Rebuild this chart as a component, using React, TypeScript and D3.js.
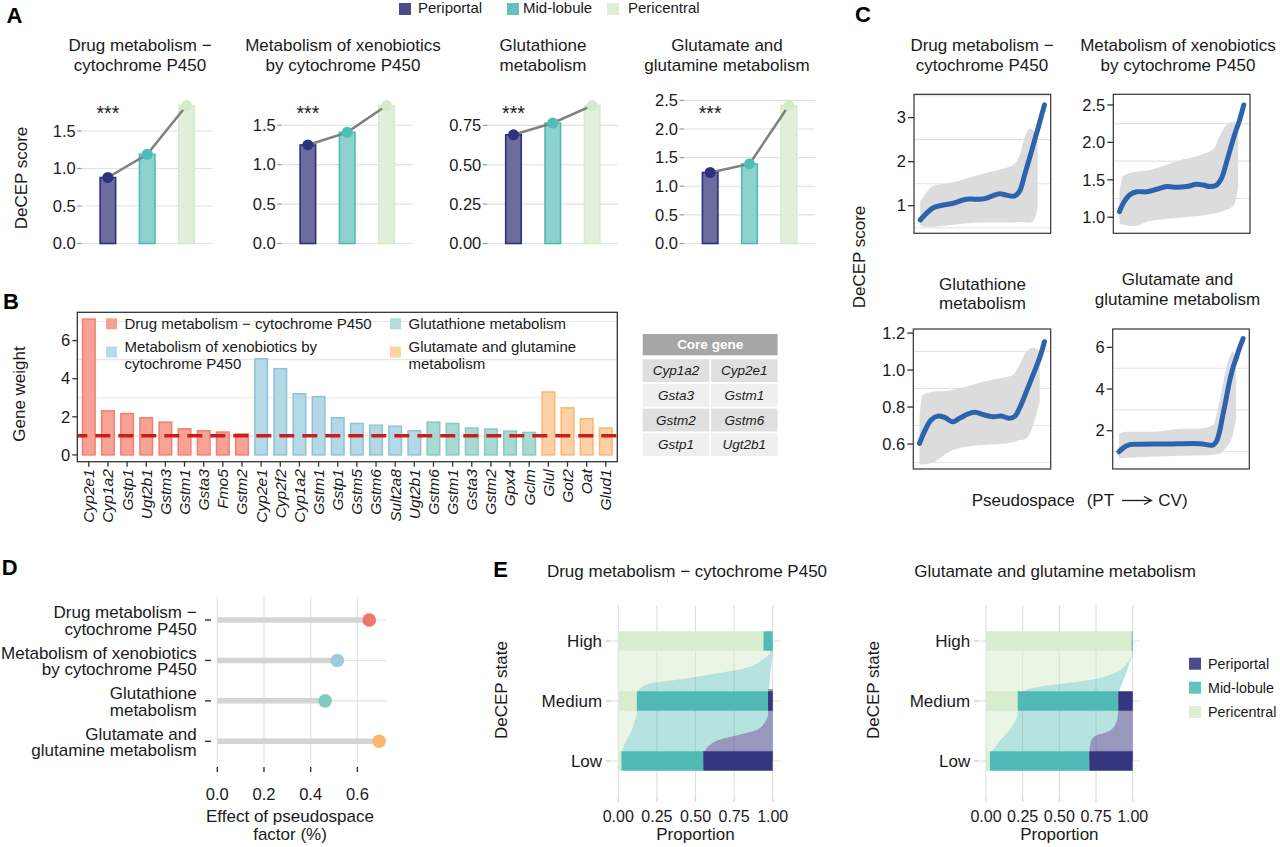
import * as d3 from "d3";
import { useEffect, useRef } from "react";

const FONT = "'Liberation Sans', Arial, Helvetica, sans-serif";
const INK = "#1a1a1a";

// ---------- shared ----------
const zones = ["Periportal", "Mid-lobule", "Pericentral"];
const zoneKey = ["#4a4a8c", "#63c2bd", "#ddefd5"];

const pathwayTitles = [
  ["Drug metabolism \u2212", "cytochrome P450"],
  ["Metabolism of xenobiotics", "by cytochrome P450"],
  ["Glutathione", "metabolism"],
  ["Glutamate and", "glutamine metabolism"],
];

// ---------- A: DeCEP score per zone ----------
const drugZoneScore = [0.88, 1.19, 1.84];
const xenoZoneScore = [1.25, 1.41, 1.75];
const glutathioneZoneScore = [0.69, 0.765, 0.876];
const glutamateZoneScore = [1.24, 1.39, 2.41];
const zoneScoreTicks = [
  [0, 0.5, 1, 1.5],
  [0, 0.5, 1, 1.5],
  [0, 0.25, 0.5, 0.75],
  [0, 0.5, 1, 1.5, 2, 2.5],
];
const zoneScoreFormats = [".1f", ".1f", ".2f", ".1f"];
const significance = ["***", "***", "***", "***"];

// ---------- B: gene weights ----------
const drugGenes = ["Cyp2e1", "Cyp1a2", "Gstp1", "Ugt2b1", "Gstm3", "Gstm1", "Gsta3", "Fmo5", "Gstm2"];
const drugWeights = [7.13, 2.31, 2.17, 1.95, 1.72, 1.37, 1.27, 1.2, 1.1];
const xenoGenes = ["Cyp2e1", "Cyp2f2", "Cyp1a2", "Gstm1", "Gstp1", "Gstm5", "Gstm6", "Sult2a8", "Ugt2b1"];
const xenoWeights = [5.05, 4.53, 3.21, 3.06, 1.95, 1.65, 1.56, 1.51, 1.27];
const glutathioneGenes = ["Gstm6", "Gstm1", "Gsta3", "Gstm2", "Gpx4", "Gclm"];
const glutathioneWeights = [1.72, 1.65, 1.41, 1.36, 1.25, 1.18];
const glutamateGenes = ["Glul", "Got2", "Oat", "Glud1"];
const glutamateWeights = [3.3, 2.47, 1.9, 1.41];
const weightTicks = [0, 2, 4, 6];
const weightCutoff = 1;
const pathwayLegend = [
  ["Drug metabolism \u2212 cytochrome P450"],
  ["Metabolism of xenobiotics by", "cytochrome P450"],
  ["Glutathione metabolism"],
  ["Glutamate and glutamine", "metabolism"],
];
const coreGenes = ["Cyp1a2", "Cyp2e1", "Gsta3", "Gstm1", "Gstm2", "Gstm6", "Gstp1", "Ugt2b1"];

// ---------- C: score along pseudospace (smooth fit + spread of cells) ----------
const drugTrend = [[0, 0.675], [0.052, 0.83], [0.105, 0.955], [0.185, 1.016], [0.266, 1.055], [0.346, 1.13], [0.4, 1.15], [0.48, 1.145], [0.534, 1.17], [0.587, 1.23], [0.64, 1.27], [0.694, 1.24], [0.76, 1.22], [0.8, 1.33], [0.84, 1.7], [0.895, 2.23], [0.948, 2.76], [1.0, 3.29]];
const drugCloud = [[0, 0.55, 1.1], [0.05, 0.52, 1.3], [0.1, 0.52, 1.45], [0.25, 0.56, 1.52], [0.37, 0.6, 1.62], [0.5, 0.62, 1.72], [0.64, 0.62, 1.82], [0.75, 0.62, 1.93], [0.8, 0.63, 2.15], [0.84, 0.62, 2.55], [0.88, 0.62, 2.75], [0.91, 0.66, 2.72], [0.945, 0.95, 2.45]];
const xenoTrend = [[0, 1.075], [0.03, 1.187], [0.084, 1.3], [0.138, 1.34], [0.219, 1.34], [0.3, 1.374], [0.38, 1.41], [0.46, 1.4], [0.54, 1.41], [0.62, 1.44], [0.674, 1.43], [0.728, 1.41], [0.78, 1.43], [0.82, 1.52], [0.862, 1.74], [0.916, 2.05], [0.97, 2.32], [1.0, 2.5]];
const xenoCloud = [[0, 0.92, 1.35], [0.03, 0.9, 1.55], [0.11, 0.88, 1.6], [0.245, 0.95, 1.63], [0.38, 0.98, 1.7], [0.51, 1.0, 1.77], [0.65, 1.02, 1.83], [0.76, 1.05, 1.92], [0.81, 1.07, 2.1], [0.86, 1.1, 2.23], [0.92, 1.16, 2.28], [0.955, 1.4, 2.15]];
const glutathioneTrend = [[0, 0.604], [0.039, 0.667], [0.092, 0.73], [0.145, 0.751], [0.2, 0.744], [0.266, 0.72], [0.32, 0.739], [0.4, 0.766], [0.453, 0.771], [0.52, 0.757], [0.587, 0.748], [0.654, 0.751], [0.72, 0.739], [0.76, 0.748], [0.8, 0.793], [0.855, 0.883], [0.908, 0.973], [0.96, 1.063], [1.0, 1.153]];
const glutathioneCloud = [[0, 0.49, 0.75], [0.025, 0.49, 0.865], [0.105, 0.5, 0.883], [0.24, 0.56, 0.89], [0.373, 0.585, 0.91], [0.507, 0.595, 0.937], [0.64, 0.6, 0.955], [0.747, 0.61, 0.973], [0.8, 0.62, 1.027], [0.855, 0.63, 1.1], [0.908, 0.7, 1.12], [0.962, 0.83, 1.1]];
const glutamateTrend = [[0, 0.99], [0.035, 1.18], [0.088, 1.33], [0.17, 1.35], [0.38, 1.36], [0.65, 1.38], [0.757, 1.31], [0.784, 1.47], [0.81, 1.95], [0.837, 2.75], [0.864, 3.55], [0.89, 4.35], [0.917, 4.99], [0.944, 5.47], [0.97, 5.95], [1.0, 6.42]];
const glutamateCloud = [[0, 0.68, 1.85], [0.06, 0.7, 1.95], [0.25, 0.75, 1.95], [0.52, 0.8, 2.1], [0.65, 0.82, 2.1], [0.757, 0.85, 2.27], [0.81, 0.9, 3.39], [0.864, 1.2, 4.99], [0.917, 1.79, 5.79], [0.944, 2.6, 5.6]];
const trendDomains = [[0.373, 3.53], [0.786, 2.642], [0.465, 1.222], [0.163, 6.88]];
const trendTicks = [[1, 2, 3], [1, 1.5, 2, 2.5], [0.6, 0.8, 1.0, 1.2], [2, 4, 6]];
const trendFormats = ["d", ".1f", ".1f", "d"];

// ---------- D: effect of pseudospace ----------
const pseudospaceEffect = [0.651, 0.514, 0.462, 0.693];
const effectTicks = [0, 0.2, 0.4, 0.6];
const pathwayColor = ["#f47469", "#9ecae0", "#7ecbc0", "#fdb46c"];

// ---------- E: zone proportions per DeCEP state ----------
const states = ["Low", "Medium", "High"];
// [periportal, mid-lobule, pericentral] for Low, Medium, High
const drugStateProps = [[0.45, 0.53, 0.02], [0.03, 0.85, 0.12], [0, 0.06, 0.94]];
const glutamateStateProps = [[0.296, 0.677, 0.027], [0.098, 0.686, 0.216], [0, 0.007, 0.993]];
// [state position, pericentral edge, mid-lobule edge]
const drugFlow = [[2.0, 0.94, 1.0], [1.82, 0.983, 1.0], [1.68, 0.927, 0.995], [1.56, 0.838, 0.99], [1.45, 0.615, 0.985], [1.36, 0.392, 0.982], [1.3, 0.214, 0.98], [1.22, 0.147, 0.978], [1.12, 0.12, 0.97], [1.0, 0.12, 0.968], [0.8, 0.12, 0.97], [0.645, 0.102, 0.949], [0.53, 0.09, 0.905], [0.445, 0.075, 0.794], [0.36, 0.055, 0.66], [0.245, 0.035, 0.582], [0.1, 0.02, 0.553], [0, 0.02, 0.55]];
const drugPortalFlow = [[1.2, 0.972], [1.0, 0.968], [0.8, 0.97], [0.645, 0.949], [0.53, 0.905], [0.445, 0.794], [0.36, 0.66], [0.245, 0.582], [0.1, 0.553], [0, 0.55]];
const glutamateFlow = [[2.0, 0.993, 1.0], [1.79, 0.995, 1.0], [1.62, 0.958, 0.977], [1.48, 0.888, 0.958], [1.36, 0.723, 0.938], [1.28, 0.489, 0.925], [1.21, 0.3, 0.915], [1.13, 0.242, 0.905], [1.0, 0.216, 0.902], [0.8, 0.216, 0.9], [0.645, 0.195, 0.888], [0.5, 0.155, 0.84], [0.42, 0.125, 0.746], [0.3, 0.08, 0.711], [0.245, 0.066, 0.708], [0.1, 0.03, 0.704], [0, 0.027, 0.704]];
const glutamatePortalFlow = [[1.15, 0.9], [1.0, 0.902], [0.8, 0.9], [0.645, 0.888], [0.5, 0.84], [0.42, 0.746], [0.3, 0.711], [0.1, 0.704], [0, 0.704]];
const proportionTicks = [0, 0.25, 0.5, 0.75, 1];

type Opts = { size?: number; anchor?: string; weight?: string; style?: string; fill?: string; rotate?: boolean };

function txt(g: any, x: number, y: number, s: string, o: Opts = {}) {
  const t = g
    .append("text")
    .attr("x", x)
    .attr("y", y)
    .attr("font-size", o.size ?? 16)
    .attr("text-anchor", o.anchor ?? "start")
    .attr("fill", o.fill ?? INK)
    .text(s);
  if (o.weight) t.attr("font-weight", o.weight);
  if (o.style) t.attr("font-style", o.style);
  if (o.rotate) t.attr("transform", `rotate(-90, ${x}, ${y})`);
  return t;
}

function hline(g: any, x1: number, x2: number, y: number, stroke: string, w = 1) {
  return g.append("line").attr("x1", x1).attr("x2", x2).attr("y1", y).attr("y2", y).attr("stroke", stroke).attr("stroke-width", w);
}

function vline(g: any, x: number, y1: number, y2: number, stroke: string, w = 1) {
  return g.append("line").attr("x1", x).attr("x2", x).attr("y1", y1).attr("y2", y2).attr("stroke", stroke).attr("stroke-width", w);
}

function panelLabel(g: any, x: number, y: number, s: string) {
  txt(g, x, y, s, { size: 22, weight: "bold", fill: "#000" });
}

function drawScores(svg: any) {
  const g = svg.append("g");
  panelLabel(g, 6.5, 22.5, "A");

  const legX = [399, 507, 607];
  const legTextX = [418, 523, 628];
  zones.forEach((z, i) => {
    g.append("rect").attr("x", legX[i]).attr("y", 3).attr("width", 12).attr("height", 12).attr("fill", zoneKey[i]);
    txt(g, legTextX[i], 13, z, { size: 15 });
  });

  const scores = [drugZoneScore, xenoZoneScore, glutathioneZoneScore, glutamateZoneScore];
  const left = [81.7, 281.7, 487.3, 684];
  const titleX = [140, 343, 543, 727];
  const barFill = ["#6d6c9f", "#8fd1cc", "#e2f0db"];
  const barStroke = ["#2f2f80", "#4bbcb7", "#d6eacd"];
  const dotFill = ["#2e3081", "#4dbdb8", "#d5eacc"];

  scores.forEach((vals, i) => {
    const L = left[i];
    const R = L + 131;
    const x = d3.scaleBand().domain(zones).range([L, R]).paddingInner(0.57).paddingOuter(0.45);
    const y = d3.scaleLinear().domain([0, (d3.max(vals) as number) * 1.04]).range([243.5, 100]);
    const fmt = d3.format(zoneScoreFormats[i]);
    const bw = x.bandwidth();

    zoneScoreTicks[i].forEach((t) => {
      hline(g, L, R, y(t), "#e1e1e1", 1.2);
      hline(g, L - 4.5, L, y(t), "#9a9a9a", 1.2);
      txt(g, L - 6, y(t), fmt(t), { anchor: "end", size: 16.5 }).attr("dy", "0.35em");
    });

    zones.forEach((z, j) => {
      g.append("rect")
        .attr("x", (x(z) as number) + 0.7)
        .attr("y", y(vals[j]))
        .attr("width", bw - 1.4)
        .attr("height", y(0) - y(vals[j]))
        .attr("fill", barFill[j])
        .attr("stroke", barStroke[j])
        .attr("stroke-width", 1.6);
    });

    const pts = zones.map((z, j) => [(x(z) as number) + bw / 2, y(vals[j])]);
    g.append("path").attr("d", d3.line()(pts as any)).attr("fill", "none").attr("stroke", "#808080").attr("stroke-width", 2.5);
    pts.forEach((p, j) => {
      g.append("circle").attr("cx", p[0]).attr("cy", p[1]).attr("r", 5.5).attr("fill", dotFill[j]);
    });

    txt(g, (x(zones[0]) as number) + bw / 2, 120, significance[i], { anchor: "middle", size: 19.5 });
    txt(g, titleX[i], 50.5, pathwayTitles[i][0], { anchor: "middle", size: 17 });
    txt(g, titleX[i], 70.5, pathwayTitles[i][1], { anchor: "middle", size: 17 });
  });

  txt(g, 26.5, 178, "DeCEP score", { anchor: "middle", size: 17, rotate: true });
}

function drawWeights(svg: any) {
  const g = svg.append("g");
  panelLabel(g, 3, 308.5, "B");

  const x0 = 77.3, x1 = 617.3, y0 = 312.3, y1 = 461.7;
  const groups = [
    { genes: drugGenes, w: drugWeights },
    { genes: xenoGenes, w: xenoWeights },
    { genes: glutathioneGenes, w: glutathioneWeights },
    { genes: glutamateGenes, w: glutamateWeights },
  ];
  const rows = groups.flatMap((grp, gi) => grp.genes.map((name, k) => ({ name, w: grp.w[k], gi })));
  const fill = ["#f6a294", "#b5d8e6", "#a8dad3", "#fdd1a5"];
  const stroke = ["#f27f72", "#8fc2d6", "#85cbc2", "#fbb56f"];
  const keyFill = ["#f4a092", "#b7dae7", "#b0ddd6", "#fdd3a7"];

  const x = d3.scaleBand().domain(d3.range(rows.length) as any).range([x0, x1]).paddingInner(0.27).paddingOuter(0.235);
  const wmax = d3.max(rows, (r) => r.w) as number;
  const pad = wmax * 0.05;
  const y = d3.scaleLinear().domain([-pad, wmax + pad]).range([y1, y0]);

  [1, 3, 5, 7].forEach((t) => hline(g, x0, x1, y(t), "#e6e6e6", 1.1));

  rows.forEach((r, i) => {
    g.append("rect")
      .attr("x", (x(i as any) as number) + 0.7)
      .attr("y", y(r.w))
      .attr("width", x.bandwidth() - 1.4)
      .attr("height", y(0) - y(r.w))
      .attr("fill", fill[r.gi])
      .attr("stroke", stroke[r.gi])
      .attr("stroke-width", 1.5);
  });

  // legend inside the panel
  const keyX = [106, 390];
  const keyY = [318.3, 346.5];
  const lineBase = [[328.5], [351.7, 369.3]];
  pathwayLegend.forEach((lines, k) => {
    const col = k < 2 ? 0 : 1;
    const row = k % 2;
    g.append("rect").attr("x", keyX[col]).attr("y", keyY[row]).attr("width", 11).attr("height", 11).attr("fill", keyFill[k]);
    lines.forEach((ln, li) => txt(g, keyX[col] + 18.5, lineBase[row][li], ln, { size: 15 }));
  });

  hline(g, x0, x1, y(weightCutoff), "#c81e1e", 3.5).attr("stroke-dasharray", "15 8").attr("stroke-dashoffset", 5);

  g.append("rect").attr("x", x0).attr("y", y0).attr("width", x1 - x0).attr("height", y1 - y0).attr("fill", "none").attr("stroke", "#333").attr("stroke-width", 1.3);

  weightTicks.forEach((t) => {
    hline(g, x0 - 5, x0, y(t), "#333", 1.3);
    txt(g, x0 - 7, y(t), String(t), { anchor: "end", size: 16.5 }).attr("dy", "0.35em");
  });

  rows.forEach((r, i) => {
    const cx = (x(i as any) as number) + x.bandwidth() / 2;
    vline(g, cx, y1, y1 + 5, "#333", 1.3);
    txt(g, cx, y1 + 7.5, r.name, { anchor: "end", size: 15.5, style: "italic" })
      .attr("dy", "0.35em")
      .attr("transform", `rotate(-90, ${cx}, ${y1 + 7.5})`);
  });

  txt(g, 25, 394, "Gene weight", { anchor: "middle", size: 17, rotate: true });

  // core gene table
  const tx = 642.7, colW = 66.6, gap = 1.7;
  g.append("rect").attr("x", tx).attr("y", 334).attr("width", colW * 2 + gap).attr("height", 21.3).attr("fill", "#a6a6a6");
  txt(g, tx + colW + gap / 2, 344.7, "Core gene", { anchor: "middle", size: 13.5, weight: "bold", fill: "#fff" }).attr("dy", "0.35em");
  const rowFill = ["#dfdfdf", "#efefef"];
  for (let r = 0; r < coreGenes.length / 2; r++) {
    const ry = 359.3 + r * 24.67;
    for (let c = 0; c < 2; c++) {
      const cx = tx + c * (colW + gap);
      g.append("rect").attr("x", cx).attr("y", ry).attr("width", colW).attr("height", 22.8).attr("fill", rowFill[r % 2]);
      txt(g, cx + colW / 2, ry + 11.4, coreGenes[r * 2 + c], { anchor: "middle", size: 13.5, style: "italic" }).attr("dy", "0.35em");
    }
  }
}

function drawTrends(svg: any) {
  const g = svg.append("g");
  panelLabel(g, 855, 21.7, "C");

  const boxes = [
    [914, 94.3, 1050.7, 233.3],
    [1113.3, 94.3, 1250, 233.3],
    [913.3, 329, 1050.7, 469],
    [1112.7, 329, 1249.3, 469],
  ];
  const titleX = [982, 1178, 982.5, 1177.5];
  const titleY = [[50.5, 70.5], [50.5, 70.5], [289.5, 309], [285, 304.5]];
  const trends = [drugTrend, xenoTrend, glutathioneTrend, glutamateTrend];
  const clouds = [drugCloud, xenoCloud, glutathioneCloud, glutamateCloud];

  boxes.forEach((b, i) => {
    const [bx0, by0, bx1, by1] = b;
    const x = d3.scaleLinear().domain([-0.05, 1.05]).range([bx0, bx1]);
    const y = d3.scaleLinear().domain(trendDomains[i]).range([by1, by0]);
    const ticks = trendTicks[i];
    const step = ticks[1] - ticks[0];
    const minors = [ticks[0] - step / 2, ...ticks.map((t) => t + step / 2)].filter(
      (m) => m > trendDomains[i][0] && m < trendDomains[i][1]
    );

    const clipId = `trend-clip-${i}`;
    g.append("clipPath").attr("id", clipId).append("rect").attr("x", bx0).attr("y", by0).attr("width", bx1 - bx0).attr("height", by1 - by0);
    const inner = g.append("g").attr("clip-path", `url(#${clipId})`);

    minors.forEach((m) => hline(inner, bx0, bx1, y(m), "#e4e4e4", 1.1));

    const area = d3
      .area()
      .x((d: any) => x(d[0]))
      .y0((d: any) => y(d[1]))
      .y1((d: any) => y(d[2]))
      .curve(d3.curveMonotoneX);
    inner.append("path").attr("d", area(clouds[i] as any)).attr("fill", "#dcdcdc");

    const line = d3
      .line()
      .x((d: any) => x(d[0]))
      .y((d: any) => y(d[1]))
      .curve(d3.curveCatmullRom.alpha(0.5));
    inner.append("path").attr("d", line(trends[i] as any)).attr("fill", "none").attr("stroke", "#2c63ad").attr("stroke-width", 5).attr("stroke-linecap", "round");

    g.append("rect").attr("x", bx0).attr("y", by0).attr("width", bx1 - bx0).attr("height", by1 - by0).attr("fill", "none").attr("stroke", "#333").attr("stroke-width", 1.2);

    const fmt = d3.format(trendFormats[i]);
    ticks.forEach((t) => {
      hline(g, bx0 - 6, bx0, y(t), "#333", 1.3);
      txt(g, bx0 - 8, y(t), fmt(t), { anchor: "end", size: 16.5 }).attr("dy", "0.35em");
    });

    txt(g, titleX[i], titleY[i][0], pathwayTitles[i][0], { anchor: "middle", size: 17 });
    txt(g, titleX[i], titleY[i][1], pathwayTitles[i][1], { anchor: "middle", size: 17 });
  });

  txt(g, 865, 257, "DeCEP score", { anchor: "middle", size: 17, rotate: true });

  // x-axis title with a drawn arrow
  txt(g, 971.7, 506, "Pseudospace", { size: 17 });
  txt(g, 1086.7, 506, "(PT", { size: 17 });
  txt(g, 1158.3, 506, "CV)", { size: 17 });
  hline(g, 1122, 1150, 500.5, INK, 1.3);
  g.append("path").attr("d", "M1144,496.5 L1151.5,500.5 L1144,504.5").attr("fill", "none").attr("stroke", INK).attr("stroke-width", 1.3);
}

function drawEffects(svg: any) {
  const g = svg.append("g");
  panelLabel(g, 1.7, 575, "D");

  const y = d3.scalePoint().domain(d3.range(4) as any).range([620, 741.3]);
  const x = d3.scaleLinear().domain([0, 0.727]).range([217.3, 387]);

  effectTicks.forEach((t) => {
    vline(g, x(t), 596.7, 763.3, "#e3e3e3", 1.1);
    vline(g, x(t), 767, 772, "#333", 1.4);
    txt(g, x(t), 800, d3.format(".1f")(t), { anchor: "middle", size: 16.5 });
  });

  pseudospaceEffect.forEach((v, i) => {
    const cy = y(i as any) as number;
    hline(g, x(0), x(0.727), cy, "#e3e3e3", 1.1);
    hline(g, x(0), x(v), cy, "#d4d4d4", 5.5);
    g.append("circle").attr("cx", x(v)).attr("cy", cy).attr("r", 6.8).attr("fill", pathwayColor[i]);
    hline(g, 205, 211, cy, "#333", 1.4);
    txt(g, 196.7, cy - 1.7, pathwayTitles[i][0], { anchor: "end", size: 17 });
    txt(g, 196.7, cy + 15, pathwayTitles[i][1], { anchor: "end", size: 17 });
  });

  txt(g, 290, 821.7, "Effect of pseudospace", { anchor: "middle", size: 17 });
  txt(g, 290, 840, "factor (%)", { anchor: "middle", size: 17 });
}

function drawStates(svg: any) {
  const g = svg.append("g");
  panelLabel(g, 493.3, 577, "E");

  const subs = [
    { props: drugStateProps, flow: drugFlow, portal: drugPortalFlow, x0: 618.3, x1: 772.7, title: pathwayTitles[0].join(" "), titleX: 687, axisX: 506.5 },
    { props: glutamateStateProps, flow: glutamateFlow, portal: glutamatePortalFlow, x0: 986, x1: 1132.7, title: pathwayTitles[3].join(" "), titleX: 1055, axisX: 878.5 },
  ];
  const yE = d3.scaleLinear().domain([0, 2]).range([761, 641]);
  const barFill = ["#363680", "#52bab6", "#d9ecd0"];
  const barH = 19.5;

  subs.forEach((s) => {
    const x = d3.scaleLinear().domain([0, 1]).range([s.x0, s.x1]);
    const left = x(-0.05), right = x(1.05);

    proportionTicks.forEach((v) => {
      vline(g, x(v), 605, 798, "#dedede", 1.1);
      vline(g, x(v), 798, 802, "#cfcfcf", 1.1);
      txt(g, x(v), 821.7, d3.format(".2f")(v), { anchor: "middle", size: 16 });
    });
    states.forEach((st, k) => {
      hline(g, left, right, yE(k), "#dedede", 1.1);
      hline(g, left - 4.5, left, yE(k), "#c4c4c4", 1.2);
      txt(g, left - 8.5, yE(k), st, { anchor: "end", size: 17 }).attr("dy", "0.35em");
    });

    const periArea = d3.area().y((d: any) => yE(d[0])).x0(() => x(0)).x1((d: any) => x(d[1])).curve(d3.curveMonotoneY);
    const midArea = d3.area().y((d: any) => yE(d[0])).x0((d: any) => x(d[1])).x1((d: any) => x(d[2])).curve(d3.curveMonotoneY);
    const portalArea = d3.area().y((d: any) => yE(d[0])).x0((d: any) => x(d[1])).x1(() => x(1)).curve(d3.curveMonotoneY);
    g.append("path").attr("d", periArea(s.flow as any)).attr("fill", "#d9ecd0").attr("fill-opacity", 0.55);
    g.append("path").attr("d", midArea(s.flow as any)).attr("fill", "#52bab6").attr("fill-opacity", 0.42);
    g.append("path").attr("d", portalArea(s.portal as any)).attr("fill", "#3a3782").attr("fill-opacity", 0.52);

    states.forEach((st, k) => {
      const p = s.props[k];
      let acc = 0;
      [2, 1, 0].forEach((z) => {
        const w = p[z];
        if (w > 0) {
          g.append("rect")
            .attr("x", x(acc))
            .attr("y", yE(k) - barH / 2)
            .attr("width", x(acc + w) - x(acc))
            .attr("height", barH)
            .attr("fill", barFill[z]);
        }
        acc += w;
      });
    });

    txt(g, s.titleX, 577, s.title, { anchor: "middle", size: 17 });
    txt(g, (s.x0 + s.x1) / 2, 840, "Proportion", { anchor: "middle", size: 17 });
    txt(g, s.axisX, 690, "DeCEP state", { anchor: "middle", size: 17, rotate: true });
  });

  const legY = [657.7, 681.7, 706];
  zones.forEach((z, i) => {
    g.append("rect").attr("x", 1189).attr("y", legY[i]).attr("width", 12).attr("height", 12).attr("fill", zoneKey[i]);
    txt(g, 1208, legY[i] + 6, z, { size: 14.3 }).attr("dy", "0.35em");
  });
}

const App = () => {
  const ref = useRef<SVGSVGElement>(null);

  useEffect(() => {
    const svg = d3.select(ref.current);
    svg.selectAll("*").remove();
    drawScores(svg);
    drawWeights(svg);
    drawTrends(svg);
    drawEffects(svg);
    drawStates(svg);
  }, []);

  return (
    <svg
      ref={ref}
      width={1280}
      height={847}
      style={{ position: "absolute", left: 0, top: 0, background: "#fff", fontFamily: FONT }}
    />
  );
};

export default App;
